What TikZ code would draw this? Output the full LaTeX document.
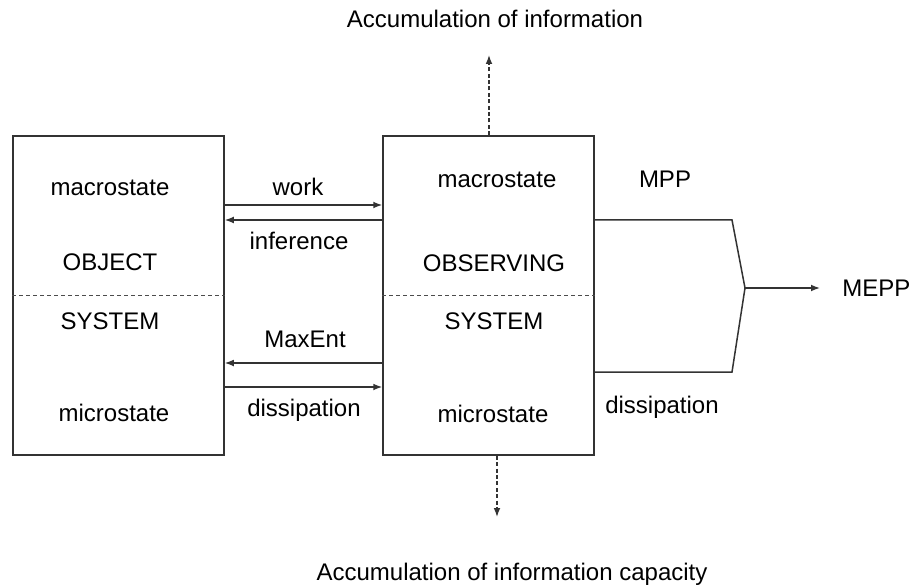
\documentclass[tikz,border=0pt]{standalone}
\usepackage{fontspec}
\setmainfont{Liberation Sans}
\usetikzlibrary{arrows.meta}
\begin{document}
\begin{tikzpicture}[x=0.5pt,y=-0.5pt,
  line/.style={draw=black!80, line width=0.75pt},
  arr/.style={line, -{Latex[length=4.5pt,width=3.4pt]}},
  darr/.style={arr, dash pattern=on 2pt off 1.2pt},
  divider/.style={draw=black!70, line width=0.6pt, dash pattern=on 2pt off 1.5pt},
  box/.style={line, minimum width=105.5pt, minimum height=159.5pt, inner sep=0pt},
  lbl/.style={font=\fontsize{12}{14}\selectfont, inner sep=0pt}]
\useasboundingbox (0,0) rectangle (909,588);
\node[box] (obj) at (118.5,295.5) {};
\node[box] (obs) at (488.5,295.5) {};
\draw[divider] (obj.west) -- (obj.east);
\draw[divider] (obs.west) -- (obs.east);
% labels inside boxes
\node[lbl] (l1) at (110,188) {macrostate};
\node[lbl] (l2) at (110,262) {OBJECT};
\node[lbl] (l3) at (110,321) {SYSTEM};
\node[lbl] (l4) at (114,413) {microstate};
\node[lbl] (r1) at (497,180) {macrostate};
\node[lbl] (r2) at (494,263) {OBSERVING};
\node[lbl] (r3) at (494,321) {SYSTEM};
\node[lbl] (r4) at (493,414) {microstate};
% middle labels
\node[lbl] (work) at (298,187) {work};
\node[lbl] (inf) at (299,241) {inference};
\node[lbl] (maxent) at (305,339) {MaxEnt};
\node[lbl] (diss) at (304,410) {dissipation};
% middle arrows
\draw[arr] (obj.east |- 0,205) -- (obs.west |- 0,205);
\draw[arr] (obs.west |- 0,220) -- (obj.east |- 0,220);
\draw[arr] (obs.west |- 0,363) -- (obj.east |- 0,363);
\draw[arr] (obj.east |- 0,387) -- (obs.west |- 0,387);
% right side
\node[lbl] (mpp) at (665,179) {MPP};
\node[lbl] (diss2) at (662,407) {dissipation};
\node[lbl, anchor=west] (mepp) at (842,288) {MEPP};
\coordinate (a1) at (732,220);
\coordinate (j) at (745,288);
\coordinate (a2) at (732,372);
\draw[line] (obs.east |- a1) -- (a1) -- (j) -- (a2) -- (obs.east |- a2);
\draw[arr] (j) -- (820,288);
% top and bottom
\node[lbl] (top) at (495,19) {Accumulation of information};
\node[lbl] (bot) at (512,574) {Accumulation of information capacity};
\coordinate (tt) at (489,55);
\coordinate (bt) at (497,517);
\draw[darr] (obs.north -| tt) -- (tt);
\draw[darr] (obs.south -| bt) -- (bt);
\end{tikzpicture}
\end{document}
